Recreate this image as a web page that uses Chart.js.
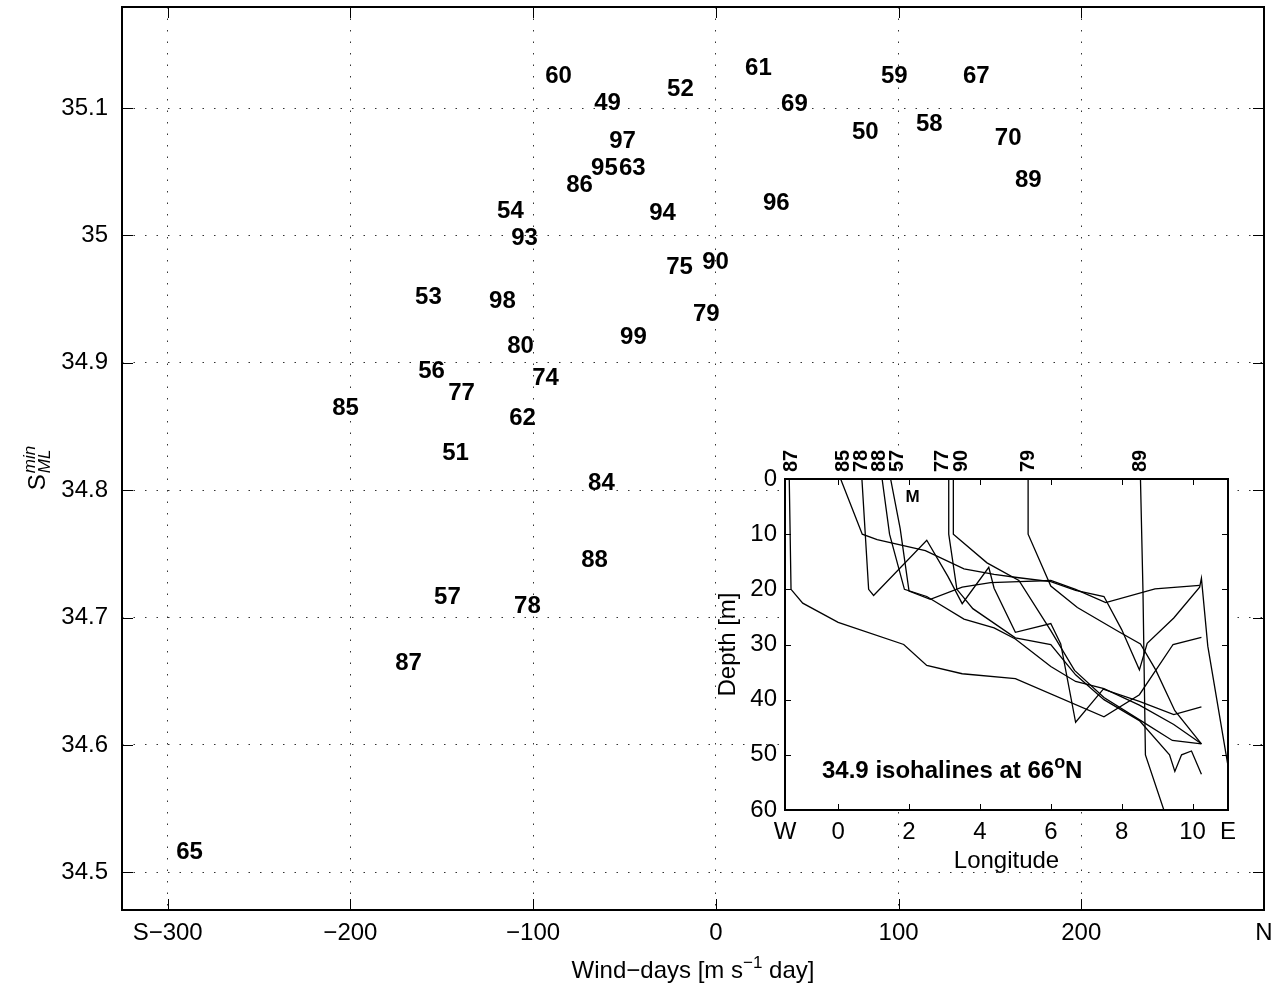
<!DOCTYPE html>
<html>
<head>
<meta charset="utf-8">
<script src="https://cdn.jsdelivr.net/npm/chart.js@4.4.1/dist/chart.umd.min.js"></script>
<style>
  body { margin: 0; background: #fff; }
  #wrap { position: relative; width: 1286px; height: 990px; }
  #main { position: absolute; left: 0; top: 0; }
  #inset { position: absolute; left: 700px; top: 430px; }
</style>
</head>
<body>
<div id="wrap">
  <canvas id="main" width="1286" height="990"></canvas>
  <canvas id="inset" width="586" height="450"></canvas>
</div>
<script>
// ---- wind-days vs. minimum mixed-layer salinity, one label per year ----
const years     = ['60', '49', '52', '61', '69', '59', '67', '97', '50', '58', '70', '95', '63', '86', '89',
                   '54', '94', '96', '93', '75', '90', '53', '98', '79', '99', '80', '56', '74', '77', '85',
                   '62', '51', '84', '88', '57', '78', '87', '65'];
const windDays  = [-93.4, -66.6, -26.7, 16.0, 35.7, 90.4, 135.2, -58.4, 74.5, 109.5, 152.7, -68.3, -53.0, -81.9, 163.7,
                   -119.7, -36.5, 25.8, -112.0, -27.2, -7.5, -164.6, -124.1, -12.5, -52.4, -114.2, -162.9, -100.5, -146.5, -210.0,
                   -113.1, -149.8, -69.9, -73.7, -154.2, -110.4, -175.5, -295.3];
const salinity  = [35.125, 35.104, 35.115, 35.131, 35.103, 35.125, 35.125, 35.074, 35.081, 35.087, 35.076, 35.053, 35.053, 35.039, 35.043,
                   35.019, 35.017, 35.025, 34.998, 34.975, 34.979, 34.951, 34.948, 34.938, 34.920, 34.913, 34.893, 34.888, 34.876, 34.864,
                   34.856, 34.829, 34.805, 34.745, 34.716, 34.709, 34.664, 34.516];
const xTicks = [-300, -200, -100, 0, 100, 200, 300];
const yTicks = [34.5, 34.6, 34.7, 34.8, 34.9, 35, 35.1];

// ---- inset: depth of the 34.9 isohaline along 66N ----
const lon87 = [-1.38, -1.33, -1.0, 0.0, 1.85, 2.5, 3.5, 5.0, 7.5, 8.5, 9.45, 10.25];
const dep87 = [0, 20, 22.5, 26, 30, 33.8, 35.3, 36.2, 43.1, 39.1, 30, 28.7];
const lon85 = [0.07, 0.68, 1.1, 2.46, 3.55, 4.4, 5.1, 6.0, 6.7, 7.5, 8.0, 8.5, 8.72, 9.47, 10.2, 10.25, 10.43, 11.0];
const dep85 = [0, 10, 11, 13, 16.3, 17.3, 17.9, 18.6, 20.2, 21.3, 27.3, 34.6, 29.8, 25.2, 19.6, 18, 30.3, 52];
const lon78 = [0.67, 0.86, 1.0, 2.5, 3.1, 3.5, 4.25, 4.4, 5.0, 6.0, 6.28, 6.7, 7.48, 8.5, 9.47, 10.25];
const dep78 = [0, 20, 21.1, 11.1, 17.7, 22.6, 16.0, 19.8, 27.8, 26.2, 29.9, 44.1, 38.1, 40.3, 42.7, 41.3];
const lon88 = [1.24, 1.45, 1.87, 2.5, 3.55, 4.4, 5.0, 6.0, 6.7, 7.5, 8.5, 9.47, 10.25];
const dep88 = [0, 10, 20, 21.3, 25.4, 27, 29, 34, 36.7, 38, 41, 44.5, 48];
const lon57 = [1.48, 1.75, 2.0, 2.6, 3.5, 4.3, 5.1, 6.0, 6.7, 7.55, 8.94, 10.2];
const dep57 = [0, 9, 20.3, 21.8, 19.6, 18.8, 18.6, 18.4, 20, 22.4, 19.9, 19.3];
const lon77 = [3.12, 3.12, 3.35, 3.8, 5.0, 6.0, 6.7, 7.5, 8.5, 9.35, 9.5, 9.69, 9.97, 10.25];
const dep77 = [0, 10, 20, 23.5, 28.8, 30, 35.5, 40, 43.8, 50, 53, 50, 49.3, 53.5];
const lon90 = [3.25, 3.25, 4.2, 5.1, 6.0, 6.67, 7.5, 8.54, 9.43, 10.25];
const dep90 = [0, 10, 15.2, 18.4, 27.5, 34.7, 39.6, 43.8, 47.4, 48];
const lon79 = [5.36, 5.36, 6.0, 6.75, 7.92, 8.53, 8.96, 9.5, 10.25];
const dep79 = [0, 10, 19.4, 23.3, 27.7, 29.9, 34.6, 42, 48];
const lon89 = [8.53, 8.6, 8.67, 9.19];
const dep89 = [0, 20, 50, 60];

const topYears = ['87', '85', '78', '88', '57', '77', '90', '79', '89'];
const topLon   = [-1.32, 0.15, 0.66, 1.17, 1.68, 2.94, 3.48, 5.37, 8.53];
const insetXTicks = [-1.5, 0, 2, 4, 6, 8, 10, 11];
const insetYTicks = [0, 10, 20, 30, 40, 50, 60];

const FONT = "'Liberation Sans', Arial, Helvetica, sans-serif";

function minus(s) { return String(s).replace('-', '\u2212'); }

// text runs {t, size, bold, italic, dy} drawn one after another
function pf(p) {
  return (p.italic ? 'italic ' : '') + (p.bold ? 'bold ' : '') + p.size + 'px ' + FONT;
}
function richWidth(ctx, parts) {
  let w = 0;
  parts.forEach(p => { ctx.font = pf(p); w += ctx.measureText(p.t).width; });
  return w;
}
function richText(ctx, parts, x, y) {
  let cx = x;
  parts.forEach(p => {
    ctx.font = pf(p);
    ctx.fillText(p.t, cx, y + (p.dy || 0));
    cx += ctx.measureText(p.t).width;
  });
}

// keep the plot area where the layout padding puts it
function noEdgePadding(s) {
  s.paddingTop = 0; s.paddingBottom = 0; s.paddingLeft = 0; s.paddingRight = 0;
}

// box round the plot area plus ticks pointing inward
function boxPlugin(len, lw) {
  return {
    id: 'box',
    afterDatasetsDraw(chart) {
      const { ctx, chartArea: a, scales: { x, y } } = chart;
      ctx.save();
      ctx.strokeStyle = '#000';
      ctx.lineWidth = 1;
      ctx.beginPath();
      x.ticks.forEach(t => {
        const p = Math.round(x.getPixelForValue(t.value)) + 0.5;
        ctx.moveTo(p, a.bottom); ctx.lineTo(p, a.bottom - len);
        ctx.moveTo(p, a.top); ctx.lineTo(p, a.top + len);
      });
      y.ticks.forEach(t => {
        const p = Math.round(y.getPixelForValue(t.value)) + 0.5;
        ctx.moveTo(a.left, p); ctx.lineTo(a.left + len, p);
        ctx.moveTo(a.right, p); ctx.lineTo(a.right - len, p);
      });
      ctx.stroke();
      ctx.lineWidth = lw;
      ctx.strokeRect(a.left, a.top, a.right - a.left, a.bottom - a.top);
      ctx.restore();
    }
  };
}

const yearLabels = {
  id: 'yearLabels',
  afterDatasetsDraw(chart) {
    const { ctx } = chart;
    const pts = chart.getDatasetMeta(0).data;
    ctx.save();
    ctx.fillStyle = '#000';
    ctx.font = 'bold 24px ' + FONT;
    ctx.textAlign = 'left';
    ctx.textBaseline = 'middle';
    pts.forEach((p, i) => ctx.fillText(years[i], p.x, p.y));
    ctx.restore();
  }
};

const mainTitles = {
  id: 'mainTitles',
  afterDraw(chart) {
    const { ctx, chartArea: a } = chart;
    ctx.save();
    ctx.fillStyle = '#000';
    ctx.textBaseline = 'alphabetic';
    ctx.textAlign = 'left';
    // x axis title
    const xt = [
      { t: 'Wind\u2212days [m s', size: 24 },
      { t: '\u22121', size: 17, dy: -10 },
      { t: ' day]', size: 24 }
    ];
    const xw = richWidth(ctx, xt);
    richText(ctx, xt, (a.left + a.right) / 2 - xw / 2, 978);
    // y axis title: S with ML subscript and min superscript
    ctx.translate(45, (a.top + a.bottom) / 2 + 10);
    ctx.rotate(-Math.PI / 2);
    ctx.font = '24px ' + FONT;
    const sw = ctx.measureText('S').width;
    ctx.font = 'italic 17px ' + FONT;
    const supW = ctx.measureText('min').width;
    const x0 = -(sw + supW) / 2;
    ctx.font = '24px ' + FONT;
    ctx.fillText('S', x0, 0);
    ctx.font = 'italic 17px ' + FONT;
    ctx.fillText('min', x0 + sw + 1, -10);
    ctx.fillText('ML', x0 + sw + 1, 5);
    ctx.restore();
  }
};

new Chart(document.getElementById('main'), {
  type: 'scatter',
  data: {
    datasets: [{
      data: years.map((y, i) => ({ x: windDays[i], y: salinity[i] })),
      pointRadius: 0,
      pointHoverRadius: 0
    }]
  },
  options: {
    responsive: false,
    animation: false,
    events: [],
    layout: { padding: { top: 7, right: 22, left: 0, bottom: 0 } },
    plugins: { legend: { display: false }, tooltip: { enabled: false } },
    scales: {
      x: {
        type: 'linear', min: -325, max: 300,
        afterBuildTicks: s => { s.ticks = xTicks.map(v => ({ value: v })); },
        afterFit: s => { s.height = 80; noEdgePadding(s); },
        ticks: {
          callback: v => v === -300 ? 'S\u2212300' : (v === 300 ? 'N' : minus(v)),
          font: { family: FONT, size: 24 }, color: '#000', padding: 9,
          maxRotation: 0, autoSkip: false
        },
        grid: { color: 'rgba(0,0,0,0.8)', lineWidth: 1, drawTicks: false },
        border: { display: false, dash: [1.5, 10] }
      },
      y: {
        type: 'linear', min: 34.4704, max: 35.1793,
        afterBuildTicks: s => { s.ticks = yTicks.map(v => ({ value: v })); },
        afterFit: s => { s.width = 122; noEdgePadding(s); },
        ticks: {
          callback: v => String(+v.toFixed(1)),
          font: { family: FONT, size: 24 }, color: '#000', padding: 14
        },
        grid: { color: 'rgba(0,0,0,0.8)', lineWidth: 1, drawTicks: false },
        border: { display: false, dash: [1.5, 10] }
      }
    }
  },
  plugins: [yearLabels, boxPlugin(11, 2), mainTitles]
});

// ---- inset ----
const insetBg = {
  id: 'insetBg',
  beforeDatasetsDraw(chart) {
    const { ctx, chartArea: a } = chart;
    ctx.save();
    ctx.fillStyle = '#fff';
    ctx.fillRect(a.left, a.top, a.right - a.left, a.bottom - a.top);
    ctx.restore();
  }
};

const insetText = {
  id: 'insetText',
  afterDraw(chart) {
    const { ctx, chartArea: a, scales: { x, y } } = chart;
    ctx.save();
    ctx.fillStyle = '#000';
    // year tags above each isohaline
    ctx.font = 'bold 20px ' + FONT;
    ctx.textAlign = 'left';
    ctx.textBaseline = 'middle';
    topYears.forEach((t, i) => {
      ctx.save();
      ctx.translate(x.getPixelForValue(topLon[i]), a.top - 7);
      ctx.rotate(-Math.PI / 2);
      ctx.fillText(t, 0, 0);
      ctx.restore();
    });
    // M marker
    ctx.font = 'bold 17px ' + FONT;
    ctx.textAlign = 'center';
    ctx.fillText('M', x.getPixelForValue(2.1), y.getPixelForValue(3.4));
    // panel title
    ctx.textAlign = 'left';
    ctx.textBaseline = 'alphabetic';
    richText(ctx, [
      { t: '34.9 isohalines at 66', size: 24, bold: true },
      { t: 'o', size: 18, bold: true, dy: -10 },
      { t: 'N', size: 24, bold: true }
    ], a.left + 37, a.bottom - 32);
    // axis titles
    ctx.font = '24px ' + FONT;
    ctx.textAlign = 'center';
    ctx.fillText('Longitude', (a.left + a.right) / 2, a.bottom + 58);
    ctx.save();
    ctx.translate(a.left - 57, (a.top + a.bottom) / 2);
    ctx.rotate(-Math.PI / 2);
    ctx.textBaseline = 'middle';
    ctx.fillText('Depth [m]', 0, 0);
    ctx.restore();
    ctx.restore();
  }
};

const lines = [[lon87, dep87], [lon85, dep85], [lon78, dep78], [lon88, dep88], [lon57, dep57],
               [lon77, dep77], [lon90, dep90], [lon79, dep79], [lon89, dep89]];

new Chart(document.getElementById('inset'), {
  type: 'scatter',
  data: {
    datasets: lines.map(([lo, de]) => ({
      data: lo.map((v, i) => ({ x: v, y: de[i] })),
      showLine: true,
      borderColor: '#000',
      borderWidth: 1.3,
      pointRadius: 0,
      pointHoverRadius: 0,
      tension: 0
    }))
  },
  options: {
    responsive: false,
    animation: false,
    events: [],
    layout: { padding: { top: 49, right: 58, left: 0, bottom: 0 } },
    plugins: { legend: { display: false }, tooltip: { enabled: false } },
    scales: {
      x: {
        type: 'linear', min: -1.5, max: 11,
        afterBuildTicks: s => { s.ticks = insetXTicks.map(v => ({ value: v })); },
        afterFit: s => { s.height = 70; noEdgePadding(s); },
        ticks: {
          callback: v => v === -1.5 ? 'W' : (v === 11 ? 'E' : String(v)),
          font: { family: FONT, size: 24 }, color: '#000', padding: 8,
          maxRotation: 0, autoSkip: false
        },
        grid: { display: false, drawTicks: false },
        border: { display: false }
      },
      y: {
        type: 'linear', min: 0, max: 60, reverse: true,
        afterBuildTicks: s => { s.ticks = insetYTicks.map(v => ({ value: v })); },
        afterFit: s => { s.width = 85; noEdgePadding(s); },
        ticks: { font: { family: FONT, size: 24 }, color: '#000', padding: 8 },
        grid: { display: false, drawTicks: false },
        border: { display: false }
      }
    }
  },
  plugins: [insetBg, boxPlugin(6, 2), insetText]
});
</script>
</body>
</html>
